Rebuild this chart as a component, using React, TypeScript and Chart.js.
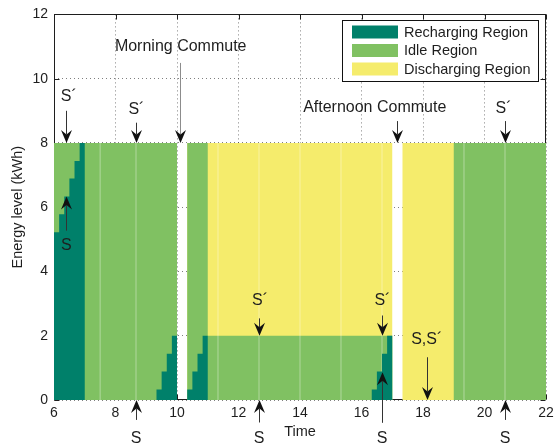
import React, { useEffect, useRef } from 'react';
import { Chart, registerables } from 'chart.js';

Chart.register(...registerables);

const FONT = '"Liberation Sans", Arial, Helvetica, sans-serif';
const INK = '#1e1e1e';

// Breakpoints of the day (hours). Each level holds until the next breakpoint.
const hours = [
  6, 6.167, 6.333, 6.5, 6.667, 6.833, 7,
  9.333, 9.5, 9.667, 9.833, 10,
  10.333, 10.5, 10.667, 10.833, 11,
  16.333, 16.5, 16.667, 16.833, 17,
  17.333, 19, 22,
];
// Top of the recharged energy (kWh)
const rechargeLevel = [
  5.22, 5.78, 6.33, 6.89, 7.44, 8.0, 0,
  0.33, 0.89, 1.44, 2.0, 0,
  0.33, 0.89, 1.44, 2.0, 0,
  0.33, 0.89, 1.44, 2.0, 0,
  0, 0, 0,
];
// Top of the idle band (kWh)
const idleLevel = [
  8, 8, 8, 8, 8, 8, 8,
  8, 8, 8, 8, 0,
  8, 8, 8, 8, 2,
  2, 2, 2, 2, 0,
  0, 8, 8,
];
// Top of the discharging band (kWh)
const dischargeLevel = [
  8, 8, 8, 8, 8, 8, 8,
  8, 8, 8, 8, 0,
  8, 8, 8, 8, 8,
  8, 8, 8, 8, 0,
  8, 8, 8,
];

const regionLabels = ['Recharging Region', 'Idle Region', 'Discharging Region'];
const regionColors = ['#00806a', '#80c162', '#f5ec6c'];

// Time-slot boundaries across the battery band
const slotHours = [7.5, 8.667, 11.333, 12.667, 14, 15.333, 16.667, 19.333, 20.667];
const slotTop = 8;

// Arrows: hour, start level, tip level
const arrowHour = [6.4, 6.4, 8.667, 10.1, 17.17, 20.667, 12.667, 16.667, 16.667, 18.13, 8.667, 12.667, 20.667];
const arrowFrom = [9.0, 5.27, 8.63, 10.49, 8.68, 8.68, 2.54, 2.63, -0.71, 1.33, -0.62, -0.7, -0.62];
const arrowTo = [8, 6.33, 8, 8, 8, 8, 2, 2, 0.86, 0, 0, 0, 0];

// Text notes: label, hour, level
const noteText = ['S´', 'S', 'S´', 'Morning Commute', 'Afternoon Commute', 'S´', 'S´', 'S´', 'S', 'S,S´', 'S', 'S', 'S'];
const noteHour = [6.48, 6.4, 8.68, 10.12, 16.43, 20.62, 12.7, 16.68, 16.667, 18.12, 8.667, 12.667, 20.667];
const noteLevel = [9.43, 4.8, 9.04, 11.0, 9.1, 9.07, 3.1, 3.08, -1.21, 1.89, -1.19, -1.19, -1.19];

const toPoints = (levels: number[]) => hours.map((h, i) => ({ x: h, y: levels[i] }));

const half = (v: number) => Math.round(v) + 0.5;

const framePlugin = {
  id: 'frame',
  beforeDatasetsDraw(chart: any) {
    const { ctx, chartArea: a, scales } = chart;
    const l = half(a.left), r = half(a.right - 1), t = half(a.top), b = half(a.bottom - 1);
    ctx.save();
    ctx.strokeStyle = INK;
    ctx.lineWidth = 1;
    ctx.strokeRect(l, t, r - l, b - t);
    ctx.beginPath();
    for (const tk of scales.x.ticks) {
      const px = half(scales.x.getPixelForValue(tk.value));
      ctx.moveTo(px, b); ctx.lineTo(px, b - 5);
      ctx.moveTo(px, t); ctx.lineTo(px, t + 5);
    }
    for (const tk of scales.y.ticks) {
      const py = half(scales.y.getPixelForValue(tk.value));
      ctx.moveTo(l, py); ctx.lineTo(l + 5, py);
      ctx.moveTo(r, py); ctx.lineTo(r - 5, py);
    }
    ctx.stroke();
    ctx.restore();
  },
};

function drawArrow(ctx: CanvasRenderingContext2D, x: number, y0: number, y1: number, color: string) {
  const dir = y1 > y0 ? 1 : -1;
  const headLen = 13;
  const headHalf = 5.5;
  const notch = 8.5;
  ctx.save();
  ctx.strokeStyle = color;
  ctx.lineWidth = 1;
  ctx.beginPath();
  ctx.moveTo(x, y0);
  ctx.lineTo(x, y1 - dir * notch);
  ctx.stroke();
  ctx.fillStyle = '#111';
  ctx.beginPath();
  ctx.moveTo(x, y1);
  ctx.lineTo(x - headHalf, y1 - dir * headLen);
  ctx.lineTo(x, y1 - dir * notch);
  ctx.lineTo(x + headHalf, y1 - dir * headLen);
  ctx.closePath();
  ctx.fill();
  ctx.restore();
}

const notesPlugin = {
  id: 'notes',
  afterDraw(chart: any) {
    const { ctx, scales, chartArea: a } = chart;
    const sx = scales.x, sy = scales.y;

    arrowHour.forEach((h, i) => {
      const x = half(sx.getPixelForValue(h));
      const color = i === 3 ? '#8c8c8c' : '#333';
      drawArrow(ctx, x, sy.getPixelForValue(arrowFrom[i]), sy.getPixelForValue(arrowTo[i]), color);
    });

    ctx.save();
    ctx.fillStyle = INK;
    ctx.font = `16px ${FONT}`;
    ctx.textAlign = 'center';
    ctx.textBaseline = 'middle';
    noteText.forEach((txt, i) => {
      ctx.fillText(txt, sx.getPixelForValue(noteHour[i]), sy.getPixelForValue(noteLevel[i]));
    });
    ctx.restore();

    // legend box
    const ds = chart.data.datasets.filter((d: any) => regionLabels.includes(d.label));
    const bx = half(a.right - 204);
    const by = half(a.top + 6);
    const bw = 196;
    const bh = 61;
    ctx.save();
    ctx.fillStyle = '#fff';
    ctx.fillRect(bx, by, bw, bh);
    ctx.strokeStyle = '#111';
    ctx.lineWidth = 1;
    ctx.strokeRect(bx, by, bw, bh);
    ctx.font = `14.5px ${FONT}`;
    ctx.textAlign = 'left';
    ctx.textBaseline = 'middle';
    ds.forEach((d: any, i: number) => {
      const cy = by + 11.5 + i * 18.5;
      ctx.fillStyle = d.backgroundColor;
      ctx.fillRect(bx + 9.5, cy - 6.5, 46, 13);
      ctx.fillStyle = INK;
      ctx.fillText(d.label, bx + 61.5, cy + 0.5);
    });
    ctx.restore();
  },
};

export default function App() {
  const canvasRef = useRef<HTMLCanvasElement | null>(null);

  useEffect(() => {
    if (!canvasRef.current) return;
    const chart = new Chart(canvasRef.current, {
      type: 'line',
      data: {
        datasets: [
          {
            label: regionLabels[0],
            data: toPoints(rechargeLevel),
            stepped: true,
            fill: 'origin',
            backgroundColor: regionColors[0],
            borderWidth: 0,
            pointRadius: 0,
            order: 0,
          },
          {
            label: 'slots',
            data: slotHours.flatMap((h) => [{ x: h, y: 0 }, { x: h, y: slotTop }, { x: h, y: null }]),
            borderColor: 'rgba(255,255,255,0.38)',
            borderWidth: 1,
            pointRadius: 0,
            fill: false,
            spanGaps: false,
            order: 1,
          },
          {
            label: regionLabels[1],
            data: toPoints(idleLevel),
            stepped: true,
            fill: 'origin',
            backgroundColor: regionColors[1],
            borderWidth: 0,
            pointRadius: 0,
            order: 2,
          },
          {
            label: regionLabels[2],
            data: toPoints(dischargeLevel),
            stepped: true,
            fill: 'origin',
            backgroundColor: regionColors[2],
            borderWidth: 0,
            pointRadius: 0,
            order: 3,
          },
        ],
      },
      options: {
        animation: false,
        responsive: true,
        maintainAspectRatio: false,
        events: [],
        layout: { padding: { top: 12, right: 8, left: 0, bottom: 0 } },
        plugins: {
          legend: { display: false },
          tooltip: { enabled: false },
        },
        scales: {
          x: {
            type: 'linear',
            min: 6,
            max: 22,
            ticks: {
              stepSize: 2,
              color: INK,
              padding: 5,
              font: { family: FONT, size: 14 },
            },
            grid: { color: 'rgba(0,0,0,0.5)', lineWidth: 1, drawTicks: false },
            border: { display: false, dash: [1, 3] },
            title: {
              display: true,
              text: 'Time',
              color: INK,
              font: { family: FONT, size: 14.5 },
              padding: { top: 0, bottom: 7 },
            },
            afterFit: (s: any) => {
              s.height = 48;
              s.paddingRight = 0;
              s.paddingLeft = 0;
            },
          },
          y: {
            min: 0,
            max: 12,
            ticks: {
              stepSize: 2,
              color: INK,
              padding: 6,
              font: { family: FONT, size: 14 },
            },
            grid: { color: 'rgba(0,0,0,0.5)', lineWidth: 1, drawTicks: false },
            border: { display: false, dash: [1, 3] },
            title: {
              display: true,
              text: 'Energy level (kWh)',
              color: INK,
              font: { family: FONT, size: 14.5 },
              padding: { top: 9, bottom: 0 },
            },
            afterFit: (s: any) => { s.width = 54; },
          },
        },
      },
      plugins: [framePlugin, notesPlugin],
    } as any);
    return () => chart.destroy();
  }, []);

  return (
    <div style={{ position: 'absolute', left: 0, top: 0, width: 554, height: 448 }}>
      <canvas ref={canvasRef} />
    </div>
  );
}
